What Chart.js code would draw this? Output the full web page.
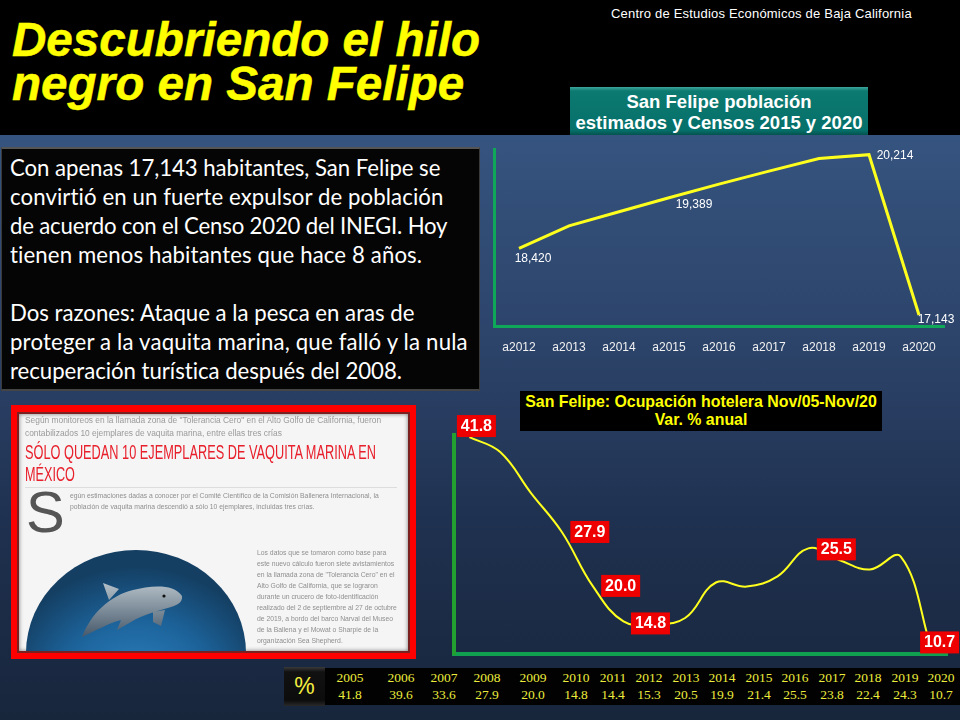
<!DOCTYPE html>
<html lang="es">
<head>
<meta charset="utf-8">
<title>Descubriendo el hilo negro en San Felipe</title>
<script src="https://cdn.jsdelivr.net/npm/chart.js@4"></script>
<style>
  html, body { margin: 0; padding: 0; }
  body { width: 960px; height: 720px; overflow: hidden; position: relative;
         font-family: "Liberation Sans", Arial, sans-serif;
         background: linear-gradient(#35547f 135px, #2c4369 350px, #1f3150 520px, #18263c 720px); }
  .abs { position: absolute; white-space: nowrap; }
  canvas { position: absolute; }
  #band { left: 0; top: 0; width: 960px; height: 135px; background: #000; }
  .headline { left: 12px; color: #ffff00; font: italic bold 47.6px "Liberation Sans", Arial, sans-serif; line-height: 46px;
              -webkit-text-stroke: .5px #ffff00; }
  #credit { left: 611px; top: 7px; color: #fff; font-size: 13px; letter-spacing: .2px; line-height: 14px; }
  #popTitle { left: 570px; top: 87px; width: 298px; height: 48px; text-align: center; color: #fff;
              font-weight: bold; font-size: 18.5px; line-height: 21px; padding-top: 4px; box-sizing: border-box;
              background: linear-gradient(#3da59c 0, #0c7a70 4px, #06706a 90%, #04524e 100%); }
  #story { left: 1px; top: 147px; width: 479px; height: 244px; background: #050505; box-sizing: border-box;
           border: 1px solid #3a3a3a; border-top: 2px solid #555; border-bottom: 2px solid #444; }
  .storyLine { left: 10px; color: #fff; font: 22.2px Lato, sans-serif; line-height: 29px; }
  #hotelTitle { left: 520px; top: 391px; width: 362px; height: 40px; background: #000; color: #ffff00; text-align: center;
                font-weight: bold; font-size: 15.9px; line-height: 18px; padding-top: 2px; box-sizing: border-box; }
  #clip { left: 11px; top: 405px; width: 405px; height: 254px; background: #f00; }
  #clipInner { left: 6px; top: 7px; width: 393px; height: 241px; background: #f5f5f5; overflow: hidden; box-sizing: border-box;
               border: 2px solid #7a2020; box-shadow: inset 0 0 4px #777; }
  #clipInner > .abs { filter: blur(.3px); }
  .gray { color: #9a9a9a; font-size: 8.4px; line-height: 13px; }
  .small { color: #8f8f8f; font-size: 6.8px; line-height: 11px; }
  .red { color: #e8202c; font-size: 21px; line-height: 24px; transform-origin: left top; }
  #tableBar { left: 286px; top: 668px; width: 674px; height: 37px; background: #020202; }
  #pct { left: 284px; top: 667px; width: 41px; height: 39px; background: linear-gradient(#3a3a3a 0, #111 5px, #0c0c0c 85%, #2a2a2a 100%);
         color: #f4f040; text-align: center; font-size: 23px; line-height: 39px; }
  .cell { color: #ecec3c; font: 13.5px "Liberation Serif", serif; transform: translateX(-50%); line-height: 15px; }
</style>
</head>
<body>
<div class="abs" id="band"></div>
<div class="abs headline" style="top:17px">Descubriendo el hilo</div>
<div class="abs headline" style="top:61px">negro en San Felipe</div>
<div class="abs" id="credit">Centro de Estudios Económicos de Baja California</div>
<div class="abs" id="popTitle">San Felipe población<br>estimados y Censos 2015 y 2020</div>
<div class="abs" id="story"></div>
<div class="abs" id="hotelTitle">San Felipe: Ocupación hotelera Nov/05-Nov/20<br>Var. % anual</div>

<div class="abs" id="clip">
  <div class="abs" id="clipInner">
    <div class="abs gray" style="left:6px;top:0px">Según monitoreos en la llamada zona de "Tolerancia Cero" en el Alto Golfo de California, fueron</div>
    <div class="abs gray" style="left:6px;top:13px">contabilizados 10 ejemplares de vaquita marina, entre ellas tres crías</div>
    <div class="abs red" data-fit="351" style="left:6px;top:26px">SÓLO QUEDAN 10 EJEMPLARES DE VAQUITA MARINA EN</div>
    <div class="abs red" data-fit="50" style="left:6px;top:48px">MÉXICO</div>
    <div class="abs" style="left:6px;top:73px;width:372px;height:1px;background:#ddd"></div>
    <div class="abs" style="left:7px;top:63px;color:#555;font-size:58px;line-height:70px">S</div>
    <div class="abs small" style="left:51px;top:76px">egún estimaciones dadas a conocer por el Comité Científico de la Comisión Ballenera Internacional, la<br>población de vaquita marina descendió a sólo 10 ejemplares, incluidas tres crías.</div>
    <svg class="abs" style="left:6px;top:136px" width="222" height="103" viewBox="0 0 222 103">
      <defs>
        <radialGradient id="sea" cx=".5" cy=".7" r=".62">
          <stop offset="0" stop-color="#2f86c8"/><stop offset=".6" stop-color="#1c6299"/><stop offset="1" stop-color="#143f63"/>
        </radialGradient>
        <linearGradient id="fin" x1="0" y1="0" x2="0" y2="1">
          <stop offset="0" stop-color="#b4c0c8"/><stop offset="1" stop-color="#46586a"/>
        </linearGradient>
      </defs>
      <ellipse cx="111" cy="103" rx="110" ry="103" fill="url(#sea)"/>
      <path d="M57 87 C66 64 84 46 108 40 C125 36 148 33 157 46 C158 54 150 56 136 60 C122 64 112 68 106 72 L92 80 L96 70 C82 74 72 80 57 87Z M78 33 L94 39 L84 50Z M128 62 L140 60 L136 76 L128 72Z" fill="url(#fin)"/>
      <circle cx="139" cy="46" r="1.6" fill="#111"/>
    </svg>
    <div class="abs small" style="left:238px;top:133px">Los datos que se tomaron como base para<br>este nuevo cálculo fueron siete avistamientos<br>en la llamada zona de "Tolerancia Cero" en el<br>Alto Golfo de California, que se lograron<br>durante un crucero de foto-identificación<br>realizado del 2 de septiembre al 27 de octubre<br>de 2019, a bordo del barco Narval del Museo<br>de la Ballena y el Mowat o Sharpie de la<br>organización Sea Shepherd.</div>
  </div>
</div>

<div class="abs" id="tableBar"></div>
<div class="abs" id="pct">%</div>

<canvas id="popChart" width="480" height="235" style="left:480px;top:140px"></canvas>
<canvas id="hotelChart" width="520" height="255" style="left:440px;top:405px"></canvas>

<script>
const storyLines = [
  "Con apenas 17,143 habitantes, San Felipe se",
  "convirtió en un fuerte expulsor de población",
  "de acuerdo con el Censo 2020 del INEGI. Hoy",
  "tienen menos habitantes que hace 8 años.",
  "",
  "Dos razones: Ataque a la pesca en aras de",
  "proteger a la vaquita marina, que falló y la nula",
  "recuperación turística después del 2008."
];
// Lato runs a little narrower or wider than the slide's font, line by line
const storySpacing = [-0.05, 0.09, -0.19, 0.12, 0, 0, 0.18, -0.03];

const popYears = ["a2012", "a2013", "a2014", "a2015", "a2016", "a2017", "a2018", "a2019", "a2020"];
const popValues = [18420, 18850, 19120, 19389, 19650, 19900, 20140, 20214, 17143];

const hotelYears = ["2005", "2006", "2007", "2008", "2009", "2010", "2011", "2012", "2013", "2014", "2015", "2016", "2017", "2018", "2019", "2020"];
const hotelValues = [41.8, 39.6, 33.6, 27.9, 20.0, 14.8, 14.4, 15.3, 20.5, 19.9, 21.4, 25.5, 23.8, 22.4, 24.3, 10.7];

// which points get a label, and where it sits relative to the point
const popLabels = [
  { i: 0, dx: 14, dy: 10 },
  { i: 3, dx: 25, dy: 6 },
  { i: 7, dx: 26, dy: 0 },
  { i: 8, dx: 17, dy: 4 }
];
const hotelLabels = [
  { i: 0, dx: 7, dy: -11 },
  { i: 3, dx: 28, dy: 0 },
  { i: 4, dx: 28, dy: 0 },
  { i: 5, dx: 27, dy: 2 },
  { i: 11, dx: 28, dy: 1 },
  { i: 15, dx: 8, dy: -7 }
];

// the table under the chart is not evenly spaced in the slide
const tableColumnX = [350, 401, 444, 487, 533, 576, 613, 649, 686, 722, 759, 795, 832, 868, 905, 941];

storyLines.forEach((line, n) => {
  const el = document.createElement("div");
  el.className = "abs storyLine";
  el.style.top = (153 + n * 29) + "px";
  el.style.letterSpacing = storySpacing[n] + "px";
  el.textContent = line;
  document.body.appendChild(el);
});

hotelYears.forEach((year, n) => {
  [[year, 670], [hotelValues[n].toFixed(1), 687]].forEach(([text, top]) => {
    const el = document.createElement("div");
    el.className = "abs cell";
    el.style.left = tableColumnX[n] + "px";
    el.style.top = top + "px";
    el.textContent = text;
    document.body.appendChild(el);
  });
});

// condensed headline in the clipping: no narrow font here, so squeeze it
document.querySelectorAll("[data-fit]").forEach(el => {
  el.style.transform = "scaleX(" + (el.dataset.fit / el.offsetWidth) + ")";
});

Chart.defaults.font.family = '"Liberation Sans", Arial, sans-serif';

const pointLabels = {
  id: "pointLabels",
  afterDatasetsDraw(chart, args, opts) {
    const ctx = chart.ctx;
    const points = chart.getDatasetMeta(0).data;
    const values = chart.data.datasets[0].data;
    ctx.save();
    ctx.textAlign = "center";
    ctx.textBaseline = "middle";
    ctx.font = opts.font;
    opts.items.forEach(item => {
      const x = points[item.i].x + item.dx;
      const y = points[item.i].y + item.dy;
      const text = opts.format(values[item.i]);
      if (opts.box) {
        ctx.fillStyle = opts.box;
        ctx.fillRect(x - 19.5, y - 11, 39, 22);
      }
      ctx.fillStyle = "#fff";
      ctx.fillText(text, x, y + 0.5);
    });
    ctx.restore();
  }
};

function createLine(id, labels, values, opts) {
  new Chart(document.getElementById(id), {
    type: "line",
    data: {
      labels: labels,
      datasets: [{
        data: values,
        borderColor: "#ffff1e",
        borderWidth: opts.lineWidth,
        tension: opts.tension,
        pointRadius: 0,
        clip: false
      }]
    },
    options: {
      responsive: false,
      animation: false,
      layout: { padding: opts.padding },
      plugins: {
        legend: { display: false },
        tooltip: { enabled: false },
        pointLabels: opts.labels
      },
      scales: {
        x: {
          offset: true,
          grid: { display: false },
          border: { color: opts.xAxisColor, width: opts.axisWidth },
          ticks: opts.xTicks,
          afterFit: s => { s.height = opts.xHeight; }
        },
        y: {
          min: opts.min,
          max: opts.max,
          grid: { display: false },
          border: { color: opts.yAxisColor, width: opts.axisWidth },
          ticks: { display: false },
          afterFit: s => { s.width = 0; }
        }
      }
    },
    plugins: [pointLabels]
  });
}

createLine("popChart", popYears, popValues, {
  lineWidth: 3, tension: 0, min: 16932, max: 20323, axisWidth: 3,
  padding: { left: 14, right: 16, top: 9, bottom: 0 },
  xHeight: 49,
  xAxisColor: "#0fa858", yAxisColor: "#0fa858",
  xTicks: { color: "#f2f2f2", font: { size: 12 }, padding: 6, maxRotation: 0, autoSkip: false },
  labels: {
    items: popLabels,
    font: '12px "Liberation Sans", Arial, sans-serif',
    format: v => v.toLocaleString("en-US")
  }
});

createLine("hotelChart", hotelYears, hotelValues, {
  lineWidth: 2, tension: 0.4, min: 10.03, max: 42.1, axisWidth: 4,
  padding: { left: 14, right: 13, top: 30, bottom: 6 },
  xHeight: 0,
  xAxisColor: "#10a050", yAxisColor: "#22a030",
  xTicks: { display: false },
  labels: {
    items: hotelLabels,
    box: "#ee0000",
    font: 'bold 16px "Liberation Sans", Arial, sans-serif',
    format: v => v.toFixed(1)
  }
});
</script>
</body>
</html>
